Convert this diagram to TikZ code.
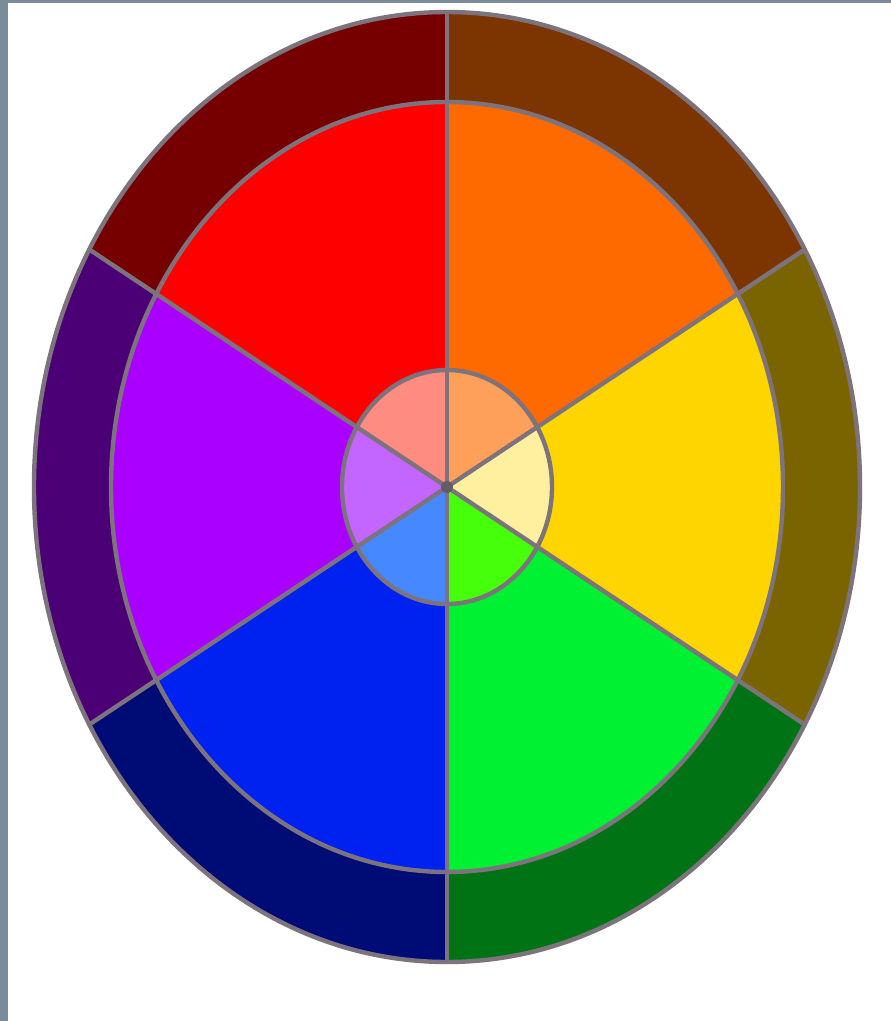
\documentclass[tikz,border=0pt]{standalone}
\definecolor{frameblue}{RGB}{122,140,154}
\definecolor{rimline}{RGB}{125,115,125}
\definecolor{oDarkRed}{RGB}{118,0,0}
\definecolor{oBrown}{RGB}{124,52,0}
\definecolor{oOlive}{RGB}{122,100,0}
\definecolor{oGreen}{RGB}{0,116,20}
\definecolor{oNavy}{RGB}{0,12,118}
\definecolor{oPurple}{RGB}{76,0,118}
\definecolor{mRed}{RGB}{255,0,0}
\definecolor{mOrange}{RGB}{255,106,0}
\definecolor{mYellow}{RGB}{255,213,0}
\definecolor{mGreen}{RGB}{0,240,50}
\definecolor{mBlue}{RGB}{0,34,240}
\definecolor{mViolet}{RGB}{170,0,255}
\definecolor{iSalmon}{RGB}{255,140,128}
\definecolor{iOrange}{RGB}{255,160,90}
\definecolor{iYellow}{RGB}{255,240,160}
\definecolor{iGreen}{RGB}{70,255,10}
\definecolor{iBlue}{RGB}{70,136,255}
\definecolor{iViolet}{RGB}{195,102,255}
\tikzset{
  outline/.style={draw=rimline, line width=4.4pt},
  spoke/.style={draw=rimline, line width=4.4pt, line cap=round}
}
\begin{document}
\begin{tikzpicture}[x=1pt,y=1pt,line join=round]
\useasboundingbox (-447,-534) rectangle (444,487);
\fill[white] (-447,-534) rectangle (444,487);
\fill[frameblue] (-447,-534) rectangle (-439,487);
\fill[frameblue] (-447,484) rectangle (444,487);
% sectors: start angle / outer / middle / inner colour
\foreach \a/\co/\cm/\ci in {90/oDarkRed/mRed/iSalmon,30/oBrown/mOrange/iOrange,-30/oOlive/mYellow/iYellow,-90/oGreen/mGreen/iGreen,-150/oNavy/mBlue/iBlue,150/oPurple/mViolet/iViolet}{
  \fill[\co] (0,0) -- (\a:413 and 475) arc[start angle=\a, end angle=\a+60, x radius=413, y radius=475] -- cycle;
  \fill[\cm] (0,0) -- (\a:336 and 385) arc[start angle=\a, end angle=\a+60, x radius=336, y radius=385] -- cycle;
  \fill[\ci] (0,0) -- (\a:105 and 117) arc[start angle=\a, end angle=\a+60, x radius=105, y radius=117] -- cycle;
}
% rings
\draw[outline] (0,0) ellipse[x radius=413, y radius=475];
\draw[outline] (0,0) ellipse[x radius=336, y radius=385];
\draw[outline] (0,0) ellipse[x radius=105, y radius=117];
% spokes
\coordinate (c) at (0,0);
\foreach \a in {30,90,150,210,270,330}{
  \coordinate (e\a) at (\a:413 and 475);
  \draw[spoke] (c) -- (e\a);
}
\fill[rimline!80!black] (c) circle[radius=6];
\end{tikzpicture}
\end{document}
